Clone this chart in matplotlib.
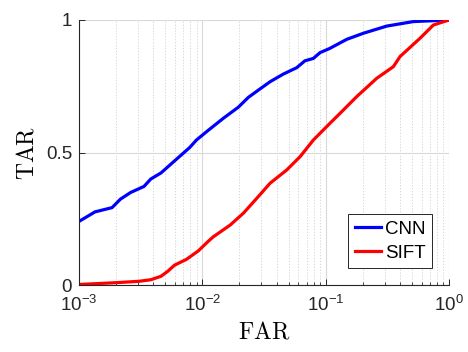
import numpy as np
import matplotlib
matplotlib.use('Agg')
import matplotlib.pyplot as plt
from matplotlib.ticker import FixedLocator, FuncFormatter, LogLocator, NullFormatter

# log10(FAR) / TAR
cnn_log_far = [-3, -2.87, -2.732, -2.664, -2.582, -2.473, -2.418, -2.335, -2.226, -2.102,
               -2.048, -1.954, -1.83, -1.708, -1.627, -1.532, -1.451, -1.343, -1.235,
               -1.168, -1.1, -1.045, -0.97, -0.829, -0.694, -0.505, -0.289, 0]
cnn_tar = [0.240, 0.276, 0.292, 0.324, 0.349, 0.372, 0.400, 0.423, 0.468, 0.519,
           0.547, 0.583, 0.629, 0.671, 0.708, 0.740, 0.767, 0.796, 0.820,
           0.846, 0.855, 0.877, 0.892, 0.927, 0.950, 0.977, 0.994, 1.0]

sift_log_far = [-3, -2.692, -2.513, -2.417, -2.335, -2.28, -2.225, -2.128, -2.032, -1.952,
                -1.911, -1.775, -1.667, -1.559, -1.451, -1.316, -1.208, -1.1, -0.97,
                -0.883, -0.748, -0.586, -0.451, -0.397, -0.235, -0.127, 0]
sift_tar = [0.002, 0.009, 0.014, 0.020, 0.033, 0.052, 0.075, 0.097, 0.129, 0.165,
            0.182, 0.226, 0.271, 0.327, 0.384, 0.434, 0.484, 0.547, 0.608,
            0.648, 0.711, 0.780, 0.824, 0.862, 0.931, 0.981, 1.0]

plt.rcParams['font.family'] = 'Liberation Sans'
plt.rcParams['mathtext.fontset'] = 'custom'
plt.rcParams['mathtext.rm'] = 'Liberation Sans'
plt.rcParams['mathtext.it'] = 'Liberation Sans'

fig = plt.figure(figsize=(4.68, 3.52), dpi=100)
ax = fig.add_axes([0.1688, 0.1903, 0.7906, 0.7529])

ax.plot(10 ** np.array(cnn_log_far), cnn_tar, color=(0, 0, 1), lw=2.3, label='CNN')
ax.plot(10 ** np.array(sift_log_far), sift_tar, color=(1, 0, 0), lw=2.3, label='SIFT')

ax.set_xscale('log')
ax.set_xlim(1e-3, 1)
ax.set_ylim(0, 1)

ax.xaxis.set_major_locator(FixedLocator([1e-3, 1e-2, 1e-1, 1]))
ax.xaxis.set_major_formatter(FuncFormatter(lambda v, p: r'$10^{%d}$' % round(np.log10(v))))
ax.xaxis.set_minor_locator(LogLocator(base=10, subs=np.arange(2, 10)))
ax.xaxis.set_minor_formatter(NullFormatter())
ax.set_yticks([0, 0.5, 1])
ax.set_yticklabels(['0', '0.5', '1'])

ax.grid(True, which='major', color='#d9d9d9', lw=0.8)
ax.grid(True, which='minor', axis='x', color='#d0d0d0', lw=0.6, ls=(0, (1.5, 2)))
ax.set_axisbelow(True)

for s in ['top', 'right']:
    ax.spines[s].set_visible(False)
for s in ['left', 'bottom']:
    ax.spines[s].set_color('#262626')
    ax.spines[s].set_linewidth(0.8)

ax.tick_params(which='both', direction='in', colors='#262626', labelsize=13.5, labelcolor='#262626')
ax.tick_params(which='major', length=4, width=0.7)
ax.tick_params(which='minor', length=2.5, width=0.6)
ax.tick_params(axis='x', pad=7)
ax.tick_params(axis='y', pad=5)

ax.set_xlabel(r'$\mathrm{FAR}$', math_fontfamily='cm', fontsize=17, labelpad=5)
ax.set_ylabel(r'$\mathrm{TAR}$', math_fontfamily='cm', fontsize=17, labelpad=5)

leg = ax.legend(loc='lower right', fontsize=13.5, fancybox=False, framealpha=1,
                edgecolor='#262626', handlelength=1.4, handletextpad=0.2,
                borderpad=0.35, labelspacing=0.35, borderaxespad=0.9)
leg.get_frame().set_linewidth(0.7)

fig.savefig('out.png', dpi=100)
